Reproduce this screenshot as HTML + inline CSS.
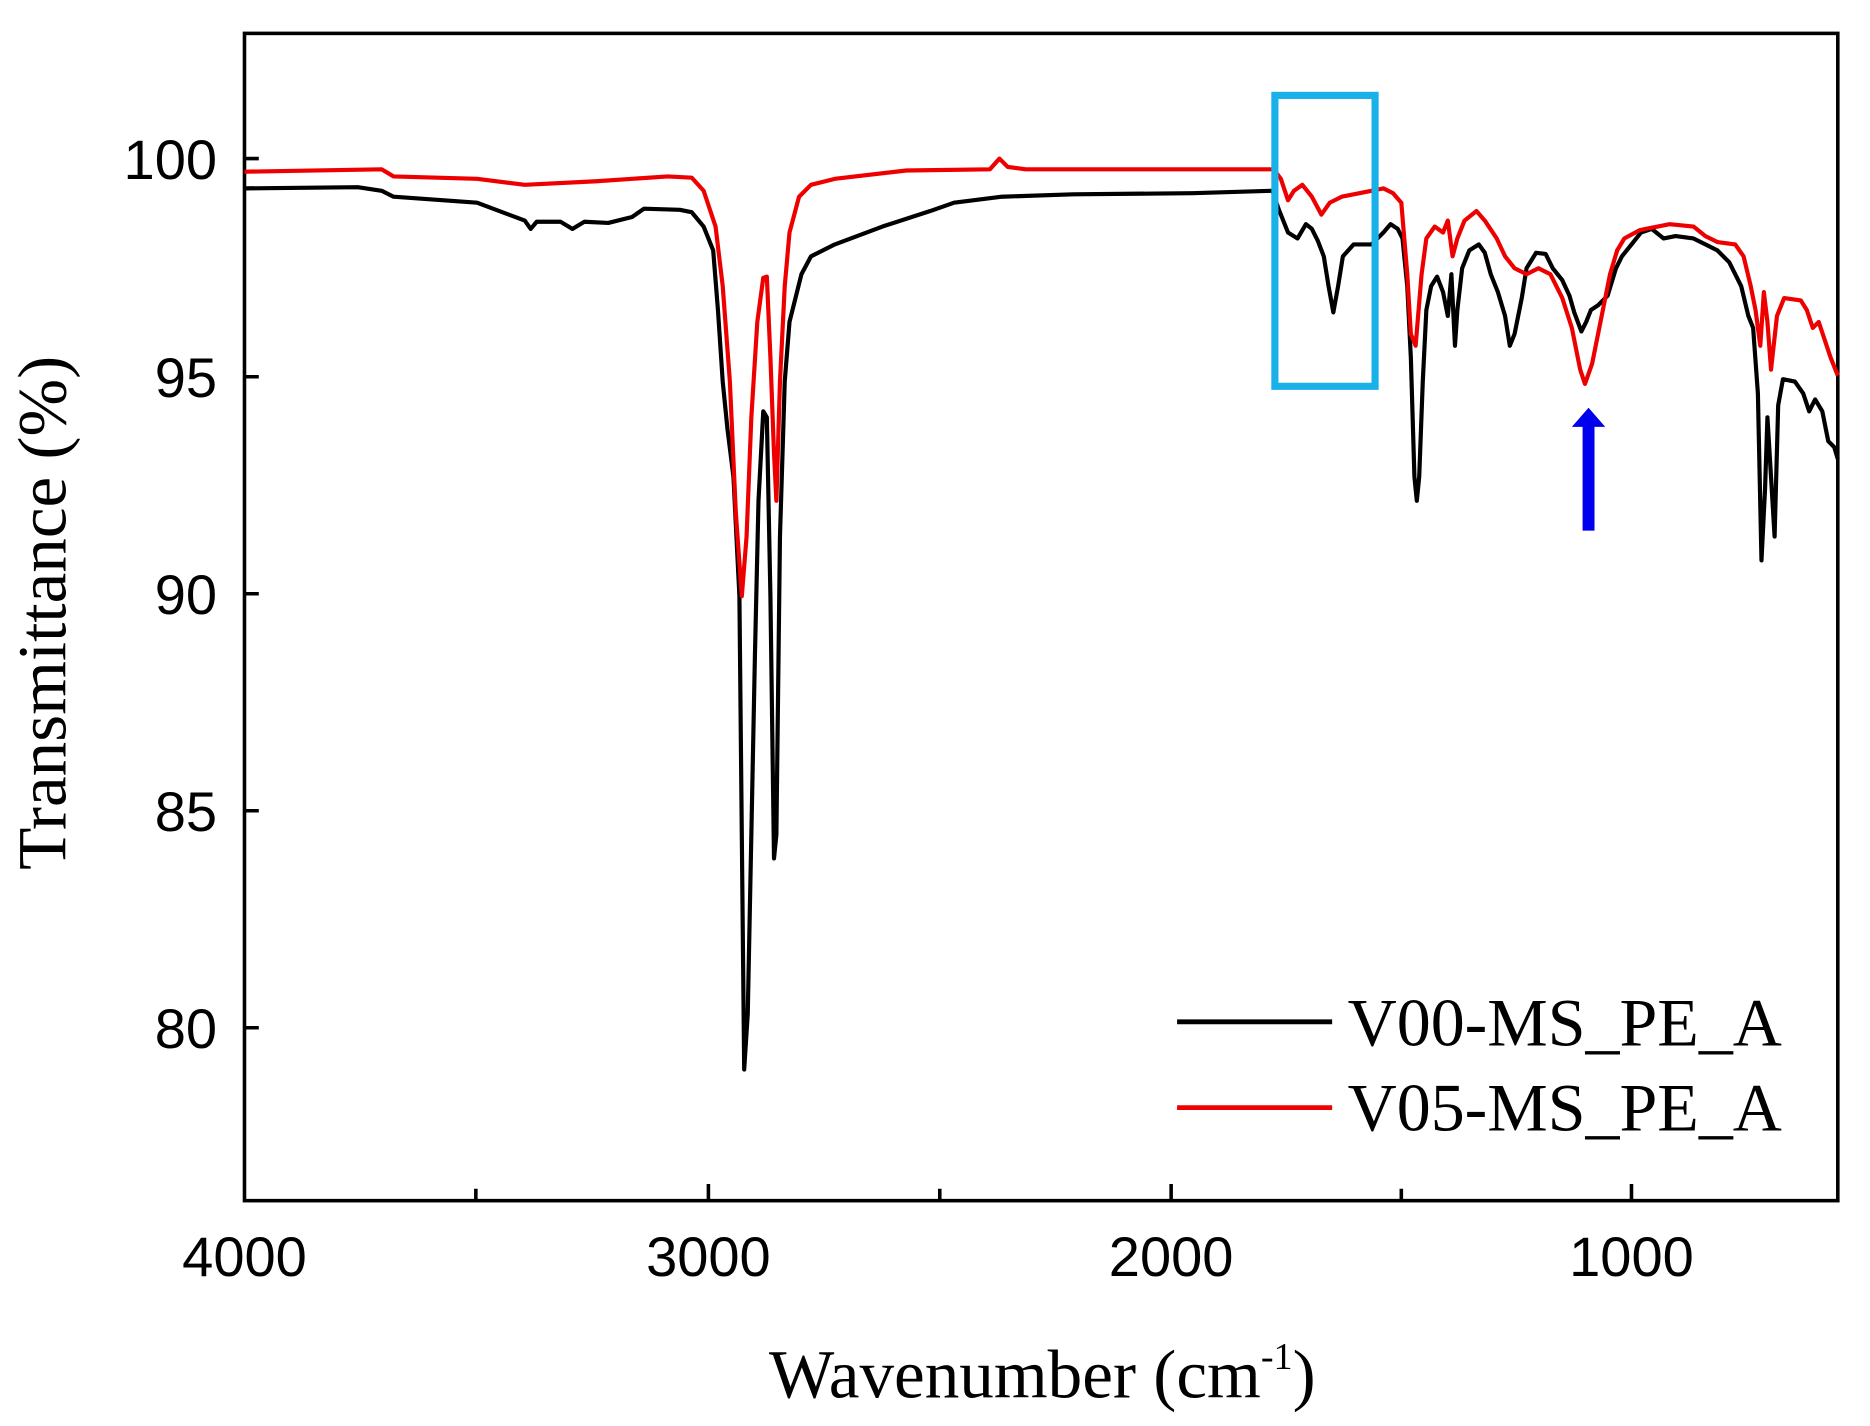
<!DOCTYPE html>
<html><head><meta charset="utf-8"><style>html,body{margin:0;padding:0;background:#fff}svg{display:block}</style></head>
<body>
<svg width="1870" height="1426" viewBox="0 0 1568 1196" preserveAspectRatio="none" xmlns="http://www.w3.org/2000/svg">
<rect width="1568" height="1196" fill="#fff"/>
<g stroke="#000" stroke-width="3" fill="none">
<rect x="205" y="28" width="1336" height="979"/>
<path d="M399 1007v-10M594 1007v-14M788 1007v-10M982 1007v-14M1175 1007v-10M1368 1007v-14M205 133h12M205 316h12M205 498h12M205 680h12M205 862h12"/>
</g>
<g font-family="Liberation Sans, Arial, sans-serif" font-size="47" fill="#000">
<text x="182" y="150" text-anchor="end">100</text>
<text x="182" y="333" text-anchor="end">95</text>
<text x="182" y="515" text-anchor="end">90</text>
<text x="182" y="697" text-anchor="end">85</text>
<text x="182" y="879" text-anchor="end">80</text>
<text x="205" y="1070" text-anchor="middle">4000</text>
<text x="594" y="1070" text-anchor="middle">3000</text>
<text x="982" y="1070" text-anchor="middle">2000</text>
<text x="1368" y="1070" text-anchor="middle">1000</text>
</g>
<g font-family="Liberation Serif, Times New Roman, serif" fill="#000">
<text x="874" y="1172" font-size="58" text-anchor="middle">Wavenumber  (cm<tspan font-size="32" dy="-24">-1</tspan><tspan dy="24">)</tspan></text>
<text transform="translate(55,514) rotate(-90)" text-anchor="middle" font-size="58">Transmittance  (%)</text>
<text x="1130" y="877" font-size="57">V00-MS_PE_A</text>
<text x="1130" y="948" font-size="57">V05-MS_PE_A</text>
</g>
<path d="M987 857h130" stroke="#000" stroke-width="4"/>
<path d="M987 929h130" stroke="#e00" stroke-width="4"/>
<polyline fill="none" stroke="#000" stroke-width="3.5" stroke-linejoin="round" points="205,158 300,157 320,160 330,165 400,170 440,185 445,192 450,186 470,186 480,192 490,186 510,187 530,182 540,175 570,176 580,178 590,190 598,210 602,260 606,320 610,360 615,400 620,500 622,700 624,897 627,850 630,700 633,550 636,420 640,345 643,350 646,500 649,720 651,700 654,450 658,320 662,270 667,250 672,230 680,215 700,205 740,190 780,177 800,170 840,165 900,163 1000,162 1067,160 1072,175 1080,195 1088,200 1095,188 1100,192 1105,202 1110,215 1114,240 1118,262 1122,240 1126,215 1135,205 1150,205 1160,195 1166,188 1172,192 1176,200 1180,240 1183,300 1186,400 1188,420 1190,400 1193,320 1196,260 1200,240 1205,232 1210,245 1214,265 1217,230 1220,290 1222,260 1226,225 1232,210 1240,205 1245,212 1250,230 1256,245 1262,265 1266,290 1270,280 1276,250 1280,225 1288,212 1296,213 1302,225 1310,235 1316,248 1320,262 1326,278 1330,270 1334,260 1340,256 1348,248 1355,225 1360,215 1368,205 1376,195 1385,192 1395,200 1405,198 1420,200 1430,205 1440,210 1450,220 1460,240 1466,265 1470,275 1474,330 1477,470 1480,410 1482,350 1485,400 1488,450 1491,340 1495,318 1505,320 1512,330 1517,345 1522,335 1528,345 1533,370 1538,375 1541,385"/>
<polyline fill="none" stroke="#e00" stroke-width="3.5" stroke-linejoin="round" points="205,144 320,142 330,148 400,150 440,155 500,152 560,148 580,149 590,160 600,190 606,240 612,320 617,430 622,500 626,450 630,350 635,270 640,233 643,232 646,300 649,380 651,420 654,320 658,240 662,195 670,165 680,155 700,150 760,143 830,142 838,133 845,140 860,142 1000,142 1068,142 1074,150 1080,168 1085,160 1092,155 1100,165 1108,180 1115,170 1125,165 1150,160 1160,158 1168,162 1175,170 1180,230 1183,280 1187,290 1192,230 1196,200 1203,190 1210,195 1214,185 1218,215 1222,200 1228,185 1238,177 1245,185 1255,200 1262,215 1270,225 1280,230 1290,225 1300,230 1310,250 1318,275 1325,310 1329,322 1335,305 1342,270 1350,230 1356,210 1362,200 1375,193 1390,190 1400,188 1420,190 1430,198 1440,203 1455,205 1462,215 1468,240 1472,260 1476,290 1479,245 1482,270 1485,310 1490,265 1496,250 1510,252 1515,260 1520,275 1525,270 1530,285 1535,300 1541,315"/>
<rect x="1069" y="80" width="84" height="244" fill="none" stroke="#1ab0e8" stroke-width="6"/>
<path d="M1327 445V358h-9l14-16 14 16h-9v87z" fill="#0000ee"/>
</svg>
</body></html>
